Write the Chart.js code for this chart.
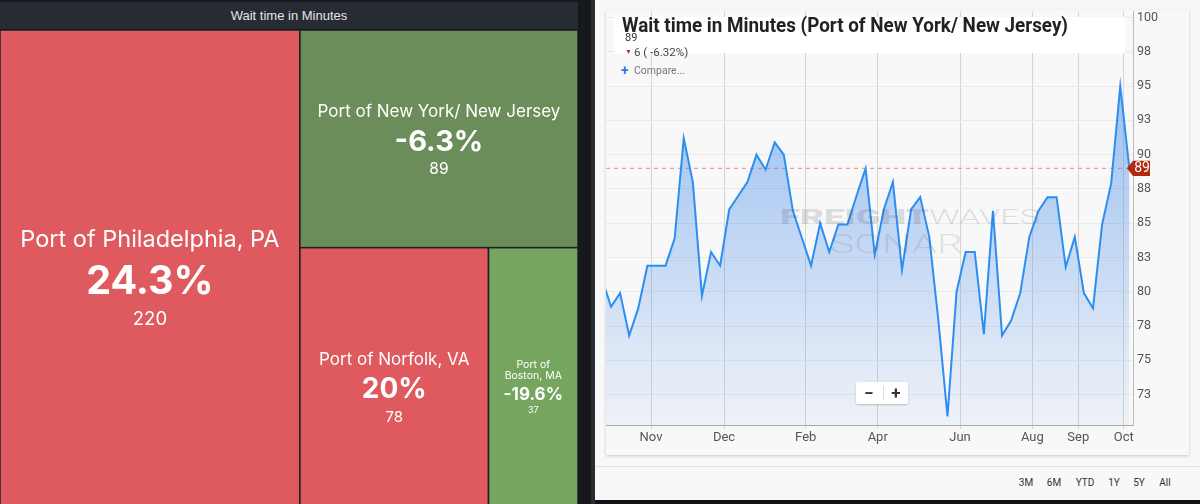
<!DOCTYPE html>
<html><head><meta charset="utf-8">
<script src="https://cdn.jsdelivr.net/npm/chart.js@4/dist/chart.umd.min.js"></script>
<style>
html,body{margin:0;padding:0;width:1200px;height:504px;overflow:hidden;background:#111214;}
.abs{position:absolute;white-space:nowrap;}
#leftBg{position:absolute;left:0;top:0;width:591px;height:504px;background:#16181c;}
#tmTitle{position:absolute;left:0;top:2px;width:578px;height:27px;background:#272c34;color:#e4e4e4;font:13px 'Liberation Sans',Arial,sans-serif;line-height:27px;text-align:center;}
#tmWrap{position:absolute;left:0;top:30px;width:578px;height:499px;}
#sep{position:absolute;left:591px;top:0;width:4px;height:504px;background:#2a2d32;}
#right{position:absolute;left:595px;top:0;width:605px;height:500px;background:#f8f8f8;}
#card{position:absolute;left:606px;top:10px;width:583px;height:445px;background:#f8f8f8;box-shadow:0 1px 3px rgba(0,0,0,0.2);}
#lcWrap{position:absolute;left:606px;top:0px;width:583px;height:455px;}
#hr{position:absolute;left:595px;top:466px;width:605px;height:1px;background:#e2e2e2;}
#titleBox{position:absolute;left:614px;top:17px;width:511px;height:36px;background:#ffffff;}
#title{left:622px;top:13.5px;font:700 19.5px Roboto,sans-serif;line-height:24px;color:#222;transform-origin:left center;}
.small{font-family:Roboto,sans-serif;color:#444;}
.rng{position:absolute;top:477px;height:14px;line-height:14px;font:10px Roboto,sans-serif;color:#333;transform:translateX(-50%);}
#zoomBox{position:absolute;left:856px;top:382px;width:52px;height:22px;background:#fff;border-radius:2px;box-shadow:0 1px 2px rgba(0,0,0,0.22);}
.wm{font-family:Roboto,sans-serif;transform-origin:left center;line-height:24px;}
</style></head>
<body>
<div id="leftBg"></div>
<div id="tmTitle">Wait time in Minutes</div>
<div id="tmWrap"><canvas id="tm" width="578" height="499"></canvas></div>
<div id="sep"></div>
<div id="right"></div>
<div id="hr"></div>
<div id="card"></div>
<div id="lcWrap"><canvas id="lc" width="583" height="455"></canvas></div>
<div id="titleBox"></div>
<div id="title" class="abs">Wait time in Minutes (Port of New York/ New Jersey)</div>
<div class="abs small" style="left:625px;top:31px;font-size:11px;line-height:14px;color:#333;">89</div>
<div class="abs small" style="left:625px;top:45px;font-size:7px;line-height:14px;color:#d8262b;">▼</div>
<div class="abs small" style="left:634px;top:45px;font-size:11.5px;line-height:14px;color:#444;">6 ( -6.32%)</div>
<div class="abs small" style="left:621px;top:62px;font-size:14px;font-weight:700;line-height:16px;color:#2b7de0;">+</div>
<div class="abs small" style="left:634px;top:64px;font-size:10.5px;line-height:14px;color:#777;">Compare...</div>
<div id="wm1" class="abs wm" style="left:780px;top:205px;font-size:21px;font-weight:900;color:rgba(60,60,70,0.15);">FREIGHT</div>
<div id="wm2" class="abs wm" style="left:929px;top:205px;font-size:21px;font-weight:300;color:rgba(60,60,70,0.14);">WAVES</div>
<div id="wm3" class="abs wm" style="left:830px;top:233px;font-size:25px;font-weight:300;color:rgba(60,60,70,0.12);">SONAR</div>
<div id="zoomBox"></div>
<div class="abs" style="left:862px;top:383px;width:14px;text-align:center;font:700 17px Roboto,sans-serif;line-height:20px;color:#333;">−</div>
<div class="abs" style="left:883px;top:386px;width:1px;height:14px;background:#ddd;"></div>
<div class="abs" style="left:889px;top:383px;width:14px;text-align:center;font:700 17px Roboto,sans-serif;line-height:20px;color:#333;">+</div>
<div class="rng" style="left:1026px;">3M</div>
<div class="rng" style="left:1054px;">6M</div>
<div class="rng" style="left:1085px;">YTD</div>
<div class="rng" style="left:1114px;">1Y</div>
<div class="rng" style="left:1139px;">5Y</div>
<div class="rng" style="left:1165px;">All</div>
<script>
// ---------- Treemap data ----------
const ports = ['Port of Philadelphia, PA', 'Port of New York/ New Jersey', 'Port of Norfolk, VA', 'Port of Boston, MA'];
const waitMinutes = [220, 89, 78, 37];
const changePct = [24.3, -6.3, 20, -19.6];

// ---------- Line chart data (Port of New York/ New Jersey) ----------
const waitSeries = [81.0, 78.9, 79.9, 76.8, 78.8, 81.9, 81.9, 81.9, 83.9, 91.2, 88.0, 79.7, 82.9, 81.9, 86.0, 87.0, 88.0, 90.0, 88.9, 90.9, 90.0, 85.9, 83.9, 81.9, 85.0, 82.9, 84.9, 84.9, 87.0, 89.0, 82.7, 86.0, 88.0, 81.6, 86.0, 86.9, 84.0, 77.9, 70.9, 80.0, 82.9, 82.9, 76.9, 85.9, 76.8, 77.9, 79.9, 84.0, 85.9, 86.9, 86.9, 81.8, 84.0, 79.9, 78.8, 84.9, 87.9, 95.0, 89.0];
const monthLabels = ['Nov', 'Dec', 'Feb', 'Apr', 'Jun', 'Aug', 'Sep', 'Oct'];
const monthPos = [4.40, 12.43, 21.41, 29.33, 38.38, 46.33, 51.38, 56.38];
const yTicks = [72.5, 75, 77.5, 80, 82.5, 85, 87.5, 90, 92.5, 95, 97.5, 100];
const X_MIN = -0.55, X_MAX = 57.4, Y_MIN = 70.28, Y_MAX = 100.44;

// ---------- styles (kept apart from data) ----------
const cellStyles = [
  {label: 23.5, pct: 39.5, val: 18.5, dy: [-41, 0, 39], gap: 27},
  {label: 17, pct: 29, val: 15.5, dy: [-28.5, 1.5, 29.5], gap: 21},
  {label: 17, pct: 28, val: 15, dy: [-30, -1, 28], gap: 20},
  {label: 10.5, pct: 17, val: 9, dy: [-24, 5, 21], gap: 10.7}
];
function cellColor(ch) {
  if (ch >= 0) return '#de5a5f';
  return ch > -10 ? '#6b8d5a' : '#76a55f';
}

// squarified layout with alternating direction per row
function squarify(vals, rect) {
  const total = vals.reduce((a, b) => a + b, 0);
  const items = vals.map((v, i) => ({i, a: v / total * rect.w * rect.h})).sort((p, q) => q.a - p.a);
  const out = [];
  const ranks = [];
  items.forEach((o, r) => ranks[o.i] = r);
  let r = {...rect};
  let vertical = r.w >= r.h;
  const worst = (row, s) => {
    const sum = row.reduce((t, o) => t + o.a, 0);
    const mx = Math.max(...row.map(o => o.a)), mn = Math.min(...row.map(o => o.a));
    return Math.max(s * s * mx / (sum * sum), sum * sum / (s * s * mn));
  };
  let k = 0;
  while (k < items.length) {
    const s = vertical ? r.h : r.w;
    const row = [items[k]];
    let j = k + 1;
    while (j < items.length && worst(row.concat([items[j]]), s) <= worst(row, s)) { row.push(items[j]); j++; }
    const sum = row.reduce((t, o) => t + o.a, 0);
    if (vertical) {
      const t = sum / r.h; let yy = r.y;
      row.forEach(o => { const hh = o.a / t; out[o.i] = {x: r.x, y: yy, w: t, h: hh, rank: ranks[o.i]}; yy += hh; });
      r = {x: r.x + t, y: r.y, w: r.w - t, h: r.h};
    } else {
      const t = sum / r.w; let xx = r.x;
      row.forEach(o => { const ww = o.a / t; out[o.i] = {x: xx, y: r.y, w: ww, h: t, rank: ranks[o.i]}; xx += ww; });
      r = {x: r.x, y: r.y + t, w: r.w, h: r.h - t};
    }
    vertical = !vertical;
    k = j;
  }
  return out;
}

const treemapPlugin = {
  id: 'treemapCells',
  beforeDatasetsDraw(chart) {
    const ctx = chart.ctx, sx = chart.scales.x, sy = chart.scales.y;
    const x0 = sx.getPixelForValue(0), x1 = sx.getPixelForValue(1);
    const y0 = sy.getPixelForValue(0), y1 = sy.getPixelForValue(1);
    const rects = squarify(waitMinutes, {x: x0, y: Math.min(y0, y1), w: x1 - x0, h: Math.abs(y1 - y0)});
    ctx.save();
    rects.forEach((c, i) => {
      ctx.fillStyle = cellColor(changePct[i]);
      ctx.fillRect(c.x, c.y, c.w, c.h);
      ctx.strokeStyle = '#1c1f24';
      ctx.lineWidth = 1.5;
      ctx.strokeRect(c.x, c.y, c.w, c.h);
      const st = cellStyles[c.rank];
      const cx = c.x + c.w / 2, cy = c.y + c.h / 2;
      ctx.fillStyle = '#ffffff';
      ctx.textAlign = 'center';
      ctx.textBaseline = 'alphabetic';
      ctx.font = '400 ' + st.label + 'px Inter, sans-serif';
      const words = ports[i].split(' ');
      const lines = [];
      let cur = '';
      words.forEach(w => {
        const test = cur ? cur + ' ' + w : w;
        if (cur && ctx.measureText(test).width > c.w - 28) { lines.push(cur); cur = w; } else cur = test;
      });
      lines.push(cur);
      lines.forEach((ln, li) => ctx.fillText(ln, cx, cy + st.dy[0] + li * st.gap + 0.3635 * st.label));
      ctx.font = '700 ' + st.pct + 'px Inter, sans-serif';
      ctx.fillText(changePct[i] + '%', cx, cy + st.dy[1] + 0.3635 * st.pct);
      ctx.font = '400 ' + st.val + 'px Inter, sans-serif';
      ctx.fillText(String(waitMinutes[i]), cx, cy + st.dy[2] + 0.3635 * st.val);
    });
    ctx.restore();
  }
};

new Chart(document.getElementById('tm'), {
  type: 'scatter',
  data: {datasets: [{data: []}]},
  options: {
    responsive: false, animation: false,
    layout: {padding: 0},
    plugins: {legend: {display: false}, tooltip: {enabled: false}},
    scales: {
      x: {type: 'linear', min: 0, max: 1, display: false},
      y: {type: 'linear', min: 0, max: 1, reverse: true, display: false}
    }
  },
  plugins: [treemapPlugin]
});

// ---------- line chart ----------
const lastVal = waitSeries[waitSeries.length - 1];
const pointIndex = waitSeries.map((_, i) => i - 1);

const lastLabelPlugin = {
  id: 'lastLabel',
  afterDraw(chart) {
    const ctx = chart.ctx;
    const y = chart.scales.y.getPixelForValue(lastVal);
    const x = chart.chartArea.right - 6;
    ctx.save();
    ctx.fillStyle = '#b3280f';
    ctx.beginPath();
    ctx.moveTo(x, y);
    ctx.lineTo(x + 6, y - 7.6);
    ctx.lineTo(x + 23, y - 7.6);
    ctx.lineTo(x + 23, y + 7.6);
    ctx.lineTo(x + 6, y + 7.6);
    ctx.closePath();
    ctx.fill();
    ctx.fillStyle = '#fff';
    ctx.font = '14px Roboto, sans-serif';
    ctx.textAlign = 'center';
    ctx.textBaseline = 'middle';
    ctx.fillText(String(Math.round(lastVal)), x + 15, y + 0.5);
    ctx.restore();
  }
};

new Chart(document.getElementById('lc'), {
  type: 'line',
  data: {
    datasets: [
      {
        data: waitSeries.map((v, i) => ({x: pointIndex[i], y: v})),
        borderColor: '#2b8ef0', borderWidth: 2, pointRadius: 0, tension: 0, order: 0,
        fill: 'start',
        backgroundColor: (ctx) => {
          const ca = ctx.chart.chartArea;
          if (!ca) return 'rgba(70,140,235,0.3)';
          const g = ctx.chart.ctx.createLinearGradient(0, ca.top, 0, ca.bottom);
          g.addColorStop(0, 'rgba(70,140,235,0.62)');
          g.addColorStop(1, 'rgba(70,140,235,0.05)');
          return g;
        }
      },
      {
        data: [{x: X_MIN, y: lastVal}, {x: X_MAX, y: lastVal}],
        borderColor: '#ec8f82', borderWidth: 1, borderDash: [4, 4], pointRadius: 0, fill: false, order: 1
      }
    ]
  },
  options: {
    responsive: false, animation: false,
    layout: {padding: {top: 10, left: 0, right: 0, bottom: 0}},
    plugins: {legend: {display: false}, tooltip: {enabled: false}},
    scales: {
      x: {
        type: 'linear', min: X_MIN, max: X_MAX,
        afterBuildTicks: (s) => { s.ticks = monthPos.map(v => ({value: v})); },
        afterFit: (s) => { s.height = 30; },
        ticks: {callback: (v, i) => monthLabels[i], autoSkip: false, maxRotation: 0, font: {family: 'Roboto', size: 13}, color: '#555', padding: 1},
        grid: {color: '#d4d4d4', tickLength: 4},
        border: {color: '#a9a9a9'}
      },
      y: {
        position: 'right', min: Y_MIN, max: Y_MAX,
        afterBuildTicks: (s) => { s.ticks = yTicks.map(v => ({value: v})); },
        afterFit: (s) => { s.width = 56; },
        ticks: {callback: (v) => Math.round(v), font: {family: 'Roboto', size: 12.5}, color: '#555', padding: 4},
        grid: {color: '#e9e9e9', drawTicks: false},
        border: {color: '#bcbcbc'}
      }
    }
  },
  plugins: [lastLabelPlugin]
});

function fitWidth(id, target) {
  const el = document.getElementById(id);
  const w = el.getBoundingClientRect().width;
  el.style.transform = 'scaleX(' + (target / w) + ')';
}
fitWidth('title', 446);
fitWidth('wm1', 149);
fitWidth('wm2', 111);
fitWidth('wm3', 133);
</script>
</body></html>
